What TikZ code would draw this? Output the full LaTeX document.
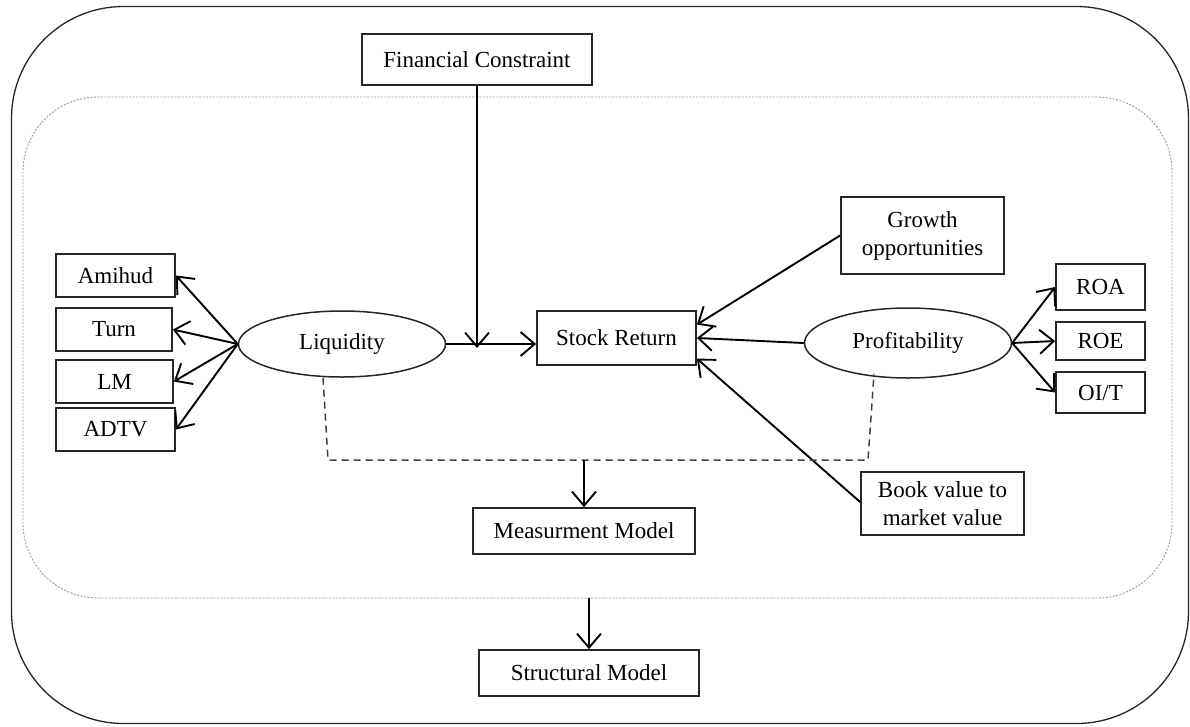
\documentclass[tikz,border=0pt]{standalone}
\usepackage{fontspec}
\setmainfont{Liberation Serif}
\usetikzlibrary{shapes.geometric,arrows.meta,calc}

\tikzset{
    txt/.style = {font=\fontsize{23}{28}\selectfont},
    indbox/.style = {draw=black!85, line width=1.8pt, txt, inner sep=0pt, align=center},
    latent/.style = {draw=black!85, ellipse, line width=1.5pt, txt, inner sep=0pt},
    link/.style = {line width=1.9pt, -{Straight Barb[length=14pt,width=24pt]}},
    dashlink/.style = {line width=1.5pt, black!75, dash pattern=on 7pt off 5pt}
}

\begin{document}
\begin{tikzpicture}[x=1pt, y=-1pt]
        \useasboundingbox (0,0) rectangle (1190,726);

        % frames
        \node[draw=black!85, line width=1.3pt, rounded corners=112pt,
              minimum width=1177pt, minimum height=717pt] (outer) at (600,365) {};
        \node[draw=gray!80, line width=0.9pt, dash pattern=on 2pt off 1.5pt, rounded corners=75pt,
              minimum width=1149pt, minimum height=501pt] (inner) at (597.5,347.5) {};

        % structural part
        \node[indbox, minimum width=230pt, minimum height=51pt] (fin) at (477,59.5) {Financial Constraint};
        \node[indbox, minimum width=159pt, minimum height=54pt] (sr) at (616.5,338) {Stock Return};
        \node[indbox, minimum width=163pt, minimum height=77pt] (growth) at (922.5,235.5) {Growth\\opportunities};
        \node[indbox, minimum width=163pt, minimum height=63pt] (book) at (942.5,503.5) {Book value to\\market value};

        \node[latent, minimum width=207pt, minimum height=66pt] (liq) at (342,344) {Liquidity};
        \node[latent, minimum width=207pt, minimum height=70pt] (prof) at (908,343) {Profitability};

        % indicators
        \node[indbox, minimum width=119pt, minimum height=43pt] (amihud) at (115.5,275.5) {Amihud};
        \node[indbox, minimum width=116pt, minimum height=43pt] (turn) at (114,329.5) {Turn};
        \node[indbox, minimum width=117pt, minimum height=43pt] (lm) at (114.5,381.5) {LM};
        \node[indbox, minimum width=119pt, minimum height=43pt] (adtv) at (115.5,429.5) {ADTV};

        \node[indbox, minimum width=89pt, minimum height=46pt] (roa) at (1100.5,287) {ROA};
        \node[indbox, minimum width=89pt, minimum height=38pt] (roe) at (1100.5,341) {ROE};
        \node[indbox, minimum width=89pt, minimum height=41pt] (oit) at (1100.5,392.5) {OI/T};

        \node[indbox, minimum width=222pt, minimum height=46pt] (meas) at (584,531) {Measurment Model};
        \node[indbox, minimum width=220pt, minimum height=46pt] (struct) at (589,673) {Structural Model};

        % arrows
        \coordinate (finend) at (fin.south |- liq.east);
        \draw[link] (fin.south) -- ([yshift=-4pt]finend);
        \draw[link] (liq.east) -- (sr.west |- liq.east);
        \draw[link] (growth.west) -- ($(sr.north east)!0.26!(sr.south east)$);
        \draw[link] (prof.west) -- (sr.east);
        \draw[link] ([yshift=1.5pt]book.west) -- ($(sr.north east)!0.87!(sr.south east)$);

        \foreach \ind in {amihud,turn,lm,adtv}
            \draw[link] (liq.west) -- (\ind.east);
        \foreach \ind in {roa,roe,oit}
            \draw[link] (prof.east) -- (\ind.west);

        % measurement model bracket
        \coordinate (dl) at (328,460);
        \coordinate (dr) at (868,460);
        \coordinate (dm) at (meas.north |- dl);
        \draw[dashlink] ([xshift=-19pt]liq.south) -- (dl) -- (dr) -- ([xshift=-34pt,yshift=5pt]prof.south);
        \draw[link] (dm) -- (meas.north);
        \draw[link] (inner.south -| struct.north) -- (struct.north);
    \end{tikzpicture}
\end{document}
